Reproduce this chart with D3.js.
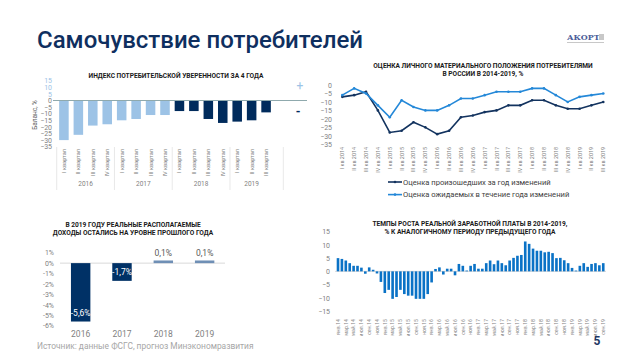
<!DOCTYPE html>
<html><head><meta charset="utf-8">
<script src="https://cdn.jsdelivr.net/npm/d3@7"></script>
<style>
html,body{margin:0;padding:0;background:#fff;}
svg{display:block;font-family:Roboto,"Noto Sans",sans-serif;}
</style></head>
<body>
<svg id="c" width="640" height="360"></svg>
<script>
// ---------- DATA ----------
const confQuarters = ["2016-I","2016-II","2016-III","2016-IV","2017-I","2017-II","2017-III","2017-IV","2018-I","2018-II","2018-III","2018-IV","2019-I","2019-II","2019-III"];
const confQuarterLabels = ["I квартал","II квартал","III квартал","IV квартал","I квартал","II квартал","III квартал","IV квартал","I квартал","II квартал","III квартал","IV квартал","I квартал","II квартал","III квартал"];
const confYears = ["2016","2017","2018","2019"];
const confValues = [-30,-26,-19,-18,-15,-14,-11,-11,-8,-8,-14,-17,-16,-15,-9];
const confTicks = [15,10,5,0,-5,-10,-15,-20,-25,-30,-35];

const finQuarters = ["I кв 2014","II кв 2014","III кв 2014","IV кв 2014","I кв 2015","II кв 2015","III кв 2015","IV кв 2015","I кв 2016","II кв 2016","III кв 2016","IV кв 2016","I кв 2017","II кв 2017","III кв 2017","IV кв 2017","I кв 2018","II кв 2018","III кв 2018","IV кв 2018","I кв 2019","II кв 2019","III кв 2019"];
const finPast = [-7,-6,-4,-15,-28,-27,-22,-25,-29,-27,-19,-18,-16,-15,-12,-12,-9,-9,-12,-14,-14,-12,-10];
const finExpected = [-6,-2,-5,-12,-19,-9,-13,-15,-15,-12,-8,-8,-6,-4,-4,-4,-2,-2,-6,-10,-7,-6,-5];
const finSeriesNames = ["Оценка произошедших за год изменений","Оценка ожидаемых в течение года изменений"];
const finTicks = [0,-5,-10,-15,-20,-25,-30,-35];

const incomeYears = ["2016","2017","2018","2019"];
const incomeValues = [-5.6,-1.7,0.1,0.1];
const incomeLabels = ["-5,6%","-1,7%","0,1%","0,1%"];
const incomeTicks = [1,0,-1,-2,-3,-4,-5,-6];

const wageMonths = [
 "янв.14","фев.14","мар.14","апр.14","май.14","июн.14","июл.14","авг.14","сен.14","окт.14","ноя.14","дек.14",
 "янв.15","фев.15","мар.15","апр.15","май.15","июн.15","июл.15","авг.15","сен.15","окт.15","ноя.15","дек.15",
 "янв.16","фев.16","мар.16","апр.16","май.16","июн.16","июл.16","авг.16","сен.16","окт.16","ноя.16","дек.16",
 "янв.17","фев.17","мар.17","апр.17","май.17","июн.17","июл.17","авг.17","сен.17","окт.17","ноя.17","дек.17",
 "янв.18","фев.18","мар.18","апр.18","май.18","июн.18","июл.18","авг.18","сен.18","окт.18","ноя.18","дек.18",
 "янв.19","фев.19","мар.19","апр.19","май.19","июн.19","июл.19","авг.19","сен.19"];
const wageValues = [
 5.0,4.7,4.1,3.1,2.1,2.1,1.4,-0.9,1.5,0.6,-0.8,-4.0,
 -8.2,-7.0,-10.4,-9.7,-7.0,-8.6,-9.2,-9.2,-10.4,-10.4,-10.4,-8.6,
 -4.2,0.9,1.5,-1.2,1.0,1.0,-1.5,2.8,2.1,0.3,2.1,2.8,
 1.0,1.0,3.1,4.1,2.7,4.1,3.1,2.3,4.1,5.1,5.9,6.2,
 11.3,10.4,8.6,7.8,7.8,7.2,7.4,6.9,5.0,5.1,4.2,3.1,
 1.3,0.3,2.1,3.1,1.7,2.8,3.1,2.3,3.1];
const wageTickLabels = ["янв.14","мар.14","май.14","июл.14","сен.14","ноя.14","янв.15","мар.15","май.15","июл.15","сен.15","ноя.15","янв.16","мар.16","май.16","июл.16","сен.16","ноя.16","янв.17","мар.17","май.17","июл.17","сен.17","ноя.17","янв.18","мар.18","май.18","июл.18","сен.18","ноя.18","янв.19","мар.19","май.19","июл.19","сен.19"];
const wageTicks = [15,10,5,0,-5,-10,-15];

// ---------- STYLE ----------
const NAVY = "#002b5c", LIGHT = "#9dc3e6", TICK = "#7f7f7f", TITLE = "#1a1a1a";
const svg = d3.select("#c");

// page title
svg.append("text").attr("x",37).attr("y",48).attr("fill","#0f2f5f")
  .attr("font-size",24).attr("font-weight",500).text("Самочувствие потребителей");
// logo
const logo = svg.append("g").attr("transform","translate(567,40)");
logo.append("text").attr("x",0).attr("y",0).attr("font-size",8).attr("font-weight",900)
  .attr("fill","#4b5d99").attr("font-family","'DejaVu Serif',serif").text("АКОРТ");
logo.append("rect").attr("x",32).attr("y",-6).attr("width",5).attr("height",6).attr("fill","#c8c8c8");
logo.append("rect").attr("x",0).attr("y",2).attr("width",37).attr("height",1).attr("fill","#c8c8c8");

function chartTitle(lines, cx, y0, dy){
  const t = svg.append("text").attr("text-anchor","middle").attr("font-size",6.6)
    .attr("font-weight",700).attr("fill",TITLE);
  lines.forEach((l,i)=>t.append("tspan").attr("x",cx).attr("y",y0+i*dy).text(l));
}
function styleAxis(g, size){
  g.select(".domain").remove();
  g.selectAll("text").attr("fill",TICK).attr("font-size",size||6.5)
    .attr("font-family","Roboto,'Noto Sans',sans-serif");
}

// ---------- CHART 1 : consumer confidence ----------
chartTitle(["ИНДЕКС ПОТРЕБИТЕЛЬСКОЙ УВЕРЕННОСТИ ЗА 4 ГОДА"], 176, 78, 0);
const x1 = d3.scaleBand().domain(confQuarters).range([56.7,273.3]);
const y1 = d3.scaleLinear().domain([-35,15]).range([146.7,80.7]);
const ax1 = svg.append("g").attr("transform","translate(52,0)")
  .call(d3.axisLeft(y1).tickValues(confTicks).tickSize(0).tickPadding(0).tickFormat(d3.format("d")));
styleAxis(ax1,7);
ax1.selectAll("text").attr("fill",d=>d>0?LIGHT:TICK);
svg.append("text").attr("transform","translate(37,115) rotate(-90)").attr("text-anchor","middle")
  .attr("font-size",6.5).attr("fill","#595959").text("Баланс, %");
const bw1 = x1.bandwidth()*0.66;
svg.append("g").selectAll("rect").data(confValues).join("rect")
  .attr("x",(d,i)=>x1(confQuarters[i])+(x1.bandwidth()-bw1)/2)
  .attr("y",y1(0)).attr("width",bw1).attr("height",d=>y1(d)-y1(0))
  .attr("fill",(d,i)=>i<8?LIGHT:NAVY);
svg.append("line").attr("x1",53).attr("x2",307).attr("y1",y1(0)).attr("y2",y1(0))
  .attr("stroke","#8fa9ad").attr("stroke-width",1);
svg.append("text").attr("x",300).attr("y",90).attr("text-anchor","middle").attr("font-size",12)
  .attr("fill",LIGHT).text("+");
svg.append("text").attr("x",298).attr("y",116).attr("text-anchor","middle").attr("font-size",12)
  .attr("font-weight",700).attr("fill",NAVY).text("-");
svg.append("g").selectAll("text").data(confQuarterLabels).join("text")
  .attr("transform",(d,i)=>`translate(${x1(confQuarters[i])+x1.bandwidth()/2+2},149) rotate(-90)`)
  .attr("text-anchor","end").attr("font-size",5.6).attr("fill",TICK).text(d=>d);
confYears.forEach((yr,gi)=>{
  const qs = confQuarters.filter(q=>q.startsWith(yr));
  const a = x1(qs[0]), b = x1(qs[qs.length-1])+x1.bandwidth();
  svg.append("text").attr("x",(a+b)/2).attr("y",186).attr("text-anchor","middle")
    .attr("font-size",6.5).attr("fill",TICK).text(yr);
  svg.append("line").attr("x1",a).attr("x2",a).attr("y1",147).attr("y2",190).attr("stroke","#d9d9d9").attr("stroke-width",0.6);
  if(gi===confYears.length-1)
    svg.append("line").attr("x1",b+10).attr("x2",b+10).attr("y1",147).attr("y2",190).attr("stroke","#d9d9d9").attr("stroke-width",0.6);
});

// ---------- CHART 2 : financial situation ----------
chartTitle(["ОЦЕНКА ЛИЧНОГО МАТЕРИАЛЬНОГО ПОЛОЖЕНИЯ ПОТРЕБИТЕЛЯМИ","В РОССИИ В 2014-2019, %"], 483, 67.5, 8);
const x2 = d3.scalePoint().domain(finQuarters).range([342.3,603.3]);
const y2 = d3.scaleLinear().domain([-35,0]).range([144.3,85]);
const ax2 = svg.append("g").attr("transform","translate(332,0)")
  .call(d3.axisLeft(y2).tickValues(finTicks).tickSize(0).tickPadding(0).tickFormat(d3.format("d")));
styleAxis(ax2,7);
svg.append("g").selectAll("text").data(finQuarters).join("text")
  .attr("transform",d=>`translate(${x2(d)+2},147) rotate(-90)`)
  .attr("text-anchor","end").attr("font-size",5.4).attr("fill",TICK).text(d=>d);
const finColors = ["#13335f","#2488d8"];
[finPast, finExpected].forEach((vals,si)=>{
  const line = d3.line().x((d,i)=>x2(finQuarters[i])).y(d=>y2(d));
  svg.append("path").datum(vals).attr("d",line).attr("fill","none")
    .attr("stroke",finColors[si]).attr("stroke-width",1.6);
  svg.append("g").selectAll("circle").data(vals).join("circle")
    .attr("cx",(d,i)=>x2(finQuarters[i])).attr("cy",d=>y2(d)).attr("r",1.3).attr("fill",finColors[si]);
});
finSeriesNames.forEach((nm,si)=>{
  const ly = 182 + si*12.6;
  svg.append("line").attr("x1",388).attr("x2",402).attr("y1",ly).attr("y2",ly)
    .attr("stroke",finColors[si]).attr("stroke-width",1.6);
  svg.append("circle").attr("cx",395).attr("cy",ly).attr("r",1.3).attr("fill",finColors[si]);
  svg.append("text").attr("x",403).attr("y",ly+2.6).attr("font-size",7.6).attr("fill","#404040").text(nm);
});

// ---------- CHART 3 : real disposable income ----------
chartTitle(["В 2019 ГОДУ РЕАЛЬНЫЕ РАСПОЛАГАЕМЫЕ","ДОХОДЫ  ОСТАЛИСЬ НА УРОВНЕ ПРОШЛОГО ГОДА"], 133, 226.5, 8.5);
const x3 = d3.scaleBand().domain(incomeYears).range([60,225.3]).paddingInner(0.53).paddingOuter(0.265);
const y3 = d3.scaleLinear().domain([-6,1]).range([325.7,252.7]);
const ax3 = svg.append("g").attr("transform","translate(54,0)")
  .call(d3.axisLeft(y3).tickValues(incomeTicks).tickSize(0).tickPadding(0).tickFormat(d=>d+"%"));
styleAxis(ax3,7);
svg.append("line").attr("x1",60).attr("x2",225).attr("y1",y3(0)).attr("y2",y3(0))
  .attr("stroke","#d9d9d9").attr("stroke-width",1);
svg.append("g").selectAll("rect").data(incomeValues).join("rect")
  .attr("x",(d,i)=>x3(incomeYears[i])).attr("width",x3.bandwidth())
  .attr("y",d=>d>=0?y3(d)-1.6:y3(0)).attr("height",d=>d>=0?y3(0)-y3(d)+1.6:y3(d)-y3(0))
  .attr("fill",(d,i)=>d<0?"#003166":"#6f8fb5");
svg.append("g").selectAll("text").data(incomeValues).join("text")
  .attr("x",(d,i)=>x3(incomeYears[i])+x3.bandwidth()/2)
  .attr("y",d=>d>=0?y3(d)-6:y3(d)-6)
  .attr("text-anchor","middle").attr("font-size",8.5)
  .attr("fill",d=>d<0?"#ffffff":"#595959").text((d,i)=>incomeLabels[i]);
svg.append("g").selectAll("text").data(incomeYears).join("text")
  .attr("x",d=>x3(d)+x3.bandwidth()/2).attr("y",337).attr("text-anchor","middle")
  .attr("font-size",8.5).attr("fill",TICK).text(d=>d);
svg.append("text").attr("x",37).attr("y",349).attr("font-size",8.4).attr("fill","#a6a6a6")
  .text("Источник: данные ФСГС, прогноз Минэкономразвития");

// ---------- CHART 4 : real wages ----------
chartTitle(["ТЕМПЫ РОСТА РЕАЛЬНОЙ ЗАРАБОТНОЙ ПЛАТЫ В 2014-2019,","% К АНАЛОГИЧНОМУ ПЕРИОДУ ПРЕДЫДУЩЕГО ГОДА"], 470, 226, 8.3);
const x4 = d3.scaleBand().domain(wageMonths).range([336.05,605.2]).paddingInner(0.33).paddingOuter(0.165);
const y4 = d3.scaleLinear().domain([-15,15]).range([311,231.7]);
const ax4 = svg.append("g").attr("transform","translate(330,0)")
  .call(d3.axisLeft(y4).tickValues(wageTicks).tickSize(0).tickPadding(0).tickFormat(d3.format("d")));
styleAxis(ax4,7);
svg.append("line").attr("x1",335).attr("x2",606).attr("y1",y4(0)).attr("y2",y4(0))
  .attr("stroke","#d9d9d9").attr("stroke-width",1);
svg.append("g").selectAll("rect").data(wageValues).join("rect")
  .attr("x",(d,i)=>x4(wageMonths[i])).attr("width",x4.bandwidth())
  .attr("y",d=>Math.min(y4(d),y4(0))).attr("height",d=>Math.abs(y4(d)-y4(0)))
  .attr("fill","#0a72c6");
svg.append("g").selectAll("text").data(wageTickLabels).join("text")
  .attr("transform",d=>`translate(${x4(d)+x4.bandwidth()/2+1.8},319) rotate(-90)`)
  .attr("text-anchor","end").attr("font-size",5.2).attr("fill",TICK).text(d=>d);
svg.append("text").attr("x",597).attr("y",345).attr("text-anchor","middle").attr("font-size",12)
  .attr("font-weight",700).attr("fill","#1f3864").text("5");
</script>
</body></html>
